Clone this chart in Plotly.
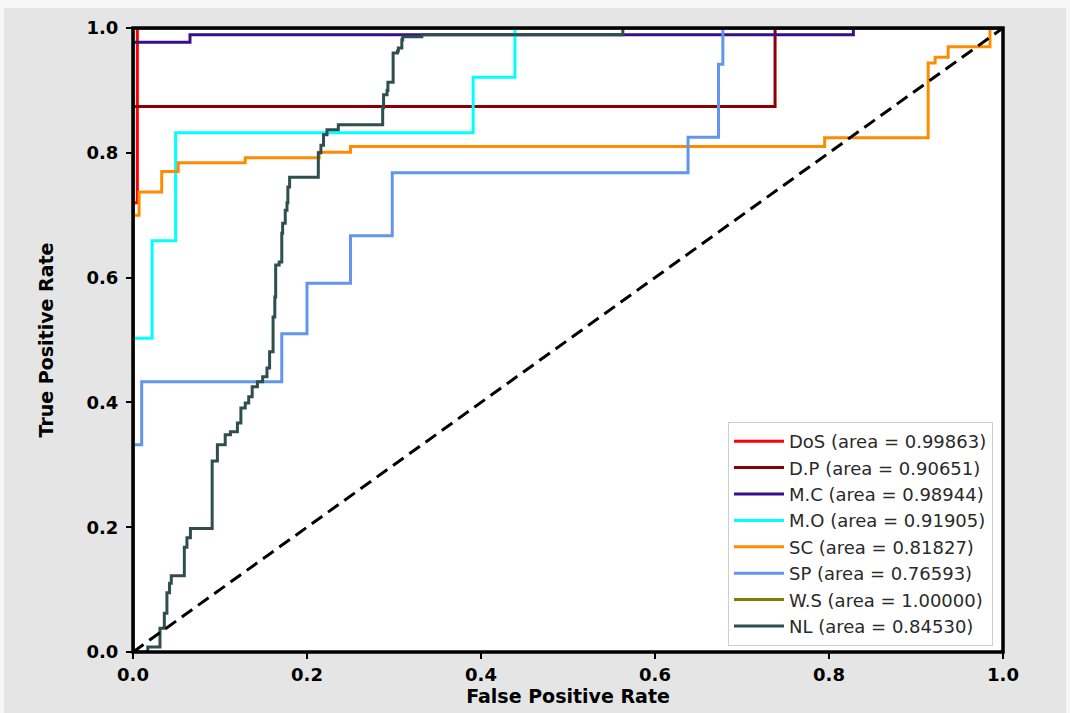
import plotly.graph_objects as go

# ---- ROC curve vertices per class (false positive rate, true positive rate) ----
# Each point is the top of a vertical rise; segments are drawn horizontal-then-vertical.
dos_fpr = [0.0, 0.0, 0.005, 1.0]
dos_tpr = [0.0, 0.72, 1.0, 1.0]

dp_fpr = [0.0, 0.0, 0.738, 1.0]
dp_tpr = [0.0, 0.874, 1.0, 1.0]

mc_fpr = [0.0, 0.0, 0.0655, 0.828, 1.0]
mc_tpr = [0.0, 0.977, 0.989, 1.0, 1.0]

mo_fpr = [0.0, 0.0, 0.022, 0.049, 0.391, 0.439, 1.0]
mo_tpr = [0.0, 0.503, 0.659, 0.832, 0.921, 1.0, 1.0]

sc_fpr = [0.0, 0.0, 0.007, 0.033, 0.052, 0.129, 0.214, 0.25, 0.795, 0.914, 0.922, 0.937, 0.985, 1.0]
sc_tpr = [0.0, 0.70, 0.737, 0.770, 0.784, 0.792, 0.801, 0.810, 0.824, 0.944, 0.953, 0.970, 1.0, 1.0]

sp_fpr = [0.0, 0.0, 0.010, 0.171, 0.200, 0.250, 0.298, 0.638, 0.673, 0.678, 1.0]
sp_tpr = [0.0, 0.332, 0.433, 0.510, 0.591, 0.667, 0.768, 0.825, 0.942, 1.0, 1.0]

ws_fpr = [0.0, 0.0, 1.0]
ws_tpr = [0.0, 1.0, 1.0]

nl_fpr = [0.0, 0.017, 0.031, 0.036, 0.039, 0.042, 0.044, 0.059, 0.062, 0.066, 0.091,
          0.097, 0.106, 0.112, 0.120, 0.124, 0.129, 0.133, 0.137, 0.143, 0.149, 0.154,
          0.157, 0.161, 0.163, 0.164, 0.168, 0.171, 0.172, 0.175, 0.177, 0.178, 0.180,
          0.213, 0.216, 0.219, 0.223, 0.236, 0.287, 0.288, 0.292, 0.293, 0.299, 0.304,
          0.305, 0.309, 0.310, 0.332, 0.563, 1.0]
nl_tpr = [0.0, 0.008, 0.038, 0.062, 0.095, 0.110, 0.122, 0.168, 0.183, 0.198, 0.306,
          0.332, 0.348, 0.353, 0.367, 0.391, 0.399, 0.409, 0.425, 0.433, 0.441, 0.455,
          0.481, 0.537, 0.569, 0.620, 0.625, 0.671, 0.687, 0.708, 0.720, 0.745, 0.761,
          0.800, 0.812, 0.829, 0.837, 0.845, 0.872, 0.893, 0.900, 0.913, 0.960, 0.963,
          0.968, 0.981, 0.986, 0.989, 1.0, 1.0]

class_names = ["DoS", "D.P", "M.C", "M.O", "SC", "SP", "W.S", "NL"]
class_auc = [0.99863, 0.90651, 0.98944, 0.91905, 0.81827, 0.76593, 1.00000, 0.84530]
class_fpr = [dos_fpr, dp_fpr, mc_fpr, mo_fpr, sc_fpr, sp_fpr, ws_fpr, nl_fpr]
class_tpr = [dos_tpr, dp_tpr, mc_tpr, mo_tpr, sc_tpr, sp_tpr, ws_tpr, nl_tpr]

chance_x = [0.0, 1.0]
chance_y = [0.0, 1.0]

tick_vals = [0.0, 0.2, 0.4, 0.6, 0.8, 1.0]
tick_text = ["0.0", "0.2", "0.4", "0.6", "0.8", "1.0"]

# ---- styling ----
line_colors = ["#ff0000", "#8b0000", "#35108a", "#00ffff",
               "#ff8c00", "#6495ed", "#808000", "#2f4f4f"]
FONT = "DejaVu Sans"
W, H = 1070, 713
M_L, M_R, M_T, M_B = 133, 67, 28, 61

fig = go.Figure()
for name, auc, fpr, tpr, col in zip(class_names, class_auc, class_fpr, class_tpr, line_colors):
    fig.add_trace(go.Scatter(
        x=fpr, y=tpr, mode="lines", line_shape="hv",
        line=dict(color=col, width=3),
        name=f"{name} (area = {auc:.5f})",
    ))

fig.add_trace(go.Scatter(
    x=chance_x, y=chance_y, mode="lines",
    line=dict(color="black", width=3, dash="13px,7px"),
    showlegend=False, hoverinfo="skip",
))

axis_common = dict(
    range=[0, 1], tickvals=tick_vals, ticktext=tick_text,
    showgrid=False, zeroline=False, showline=False,
    ticks="outside", ticklen=6, tickwidth=2, tickcolor="black",
    tickfont=dict(family=FONT, size=18, color="black", weight="bold"),
)

fig.update_xaxes(**axis_common,
                 title=dict(text="False Positive Rate", standoff=5,
                            font=dict(family=FONT, size=19, color="black", weight="bold")))
fig.update_yaxes(**axis_common, ticklabelstandoff=4,
                 title=dict(text="True Positive Rate", standoff=27,
                            font=dict(family=FONT, size=19, color="black", weight="bold")))

pw = W - M_L - M_R
ph = H - M_T - M_B


def px_x(p):
    return (p - M_L) / pw


def px_y(p):
    return (H - M_B - p) / ph


# light frame around the grey backdrop
frame = [
    (0, 0, W, 8),
    (0, 0, 4, H),
    (W - 4, 0, W, H),
]
shapes = [
    dict(type="rect", xref="paper", yref="paper",
         x0=px_x(x0), x1=px_x(x1), y0=px_y(y1), y1=px_y(y0),
         fillcolor="#f6f6f6", line=dict(width=0), layer="below")
    for x0, y0, x1, y1 in frame
]
# axes box, centred on the plot edges and drawn over the curves
shapes.append(dict(type="rect", xref="paper", yref="paper", x0=0, x1=1, y0=0, y1=1,
                   line=dict(color="black", width=3.5), fillcolor="rgba(0,0,0,0)",
                   layer="above"))

fig.update_layout(
    width=W, height=H,
    margin=dict(l=M_L, r=M_R, t=M_T, b=M_B, autoexpand=False),
    paper_bgcolor="#e5e5e5",
    plot_bgcolor="white",
    font=dict(family=FONT, color="black"),
    shapes=shapes,
    legend=dict(
        x=0.9885, y=0.0096, xanchor="right", yanchor="bottom",
        bgcolor="white", bordercolor="#cfcfcf", borderwidth=1,
        font=dict(family=FONT, size=18, color="#2a2a2a"),
        itemwidth=50, tracegroupgap=0,
    ),
)

fig.write_html("out.html")
